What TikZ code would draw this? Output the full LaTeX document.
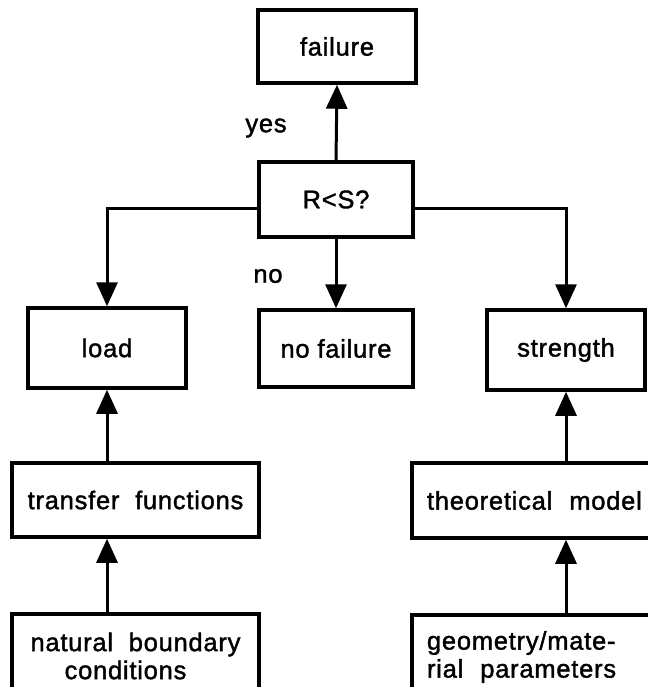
\documentclass[tikz,border=0pt]{standalone}
\usepackage{fontspec}
\setmainfont{Liberation Sans}[LetterSpace=3,FakeBold=1.5]
\usetikzlibrary{arrows.meta}
\begin{document}
\begin{tikzpicture}[x=1pt,y=-1pt,
  box/.style={draw=black,line width=3.5pt,inner sep=0pt,
    font=\fontsize{25.5}{28}\selectfont,text=black},
  conn/.style={line width=3pt,-{Triangle[length=24pt,width=21pt]}},
  lbl/.style={inner sep=0pt,font=\fontsize{25.5}{28}\selectfont}]
\useasboundingbox (0,0) rectangle (647,687);
\node[box,minimum width=158pt,minimum height=73pt] (fail) at (337,46.5) {failure};
\node[box,minimum width=154pt,minimum height=75pt] (rs) at (336,199.5) {R<S?};
\node[box,minimum width=158pt,minimum height=80pt] (load) at (107,348) {load};
\node[box,minimum width=154pt,minimum height=77pt] (nofail) at (336,348.5) {no failure};
\node[box,minimum width=158pt,minimum height=80pt] (str) at (566,350) {strength};
\node[box,minimum width=247pt,minimum height=74pt] (trans) at (135.5,500) {transfer~~functions};
\node[box,minimum width=248pt,minimum height=75pt,text width=218pt,align=left] (theo) at (536,500.5) {theoretical~~model};
\node[box,minimum width=247pt,minimum height=84pt,align=center] (nat) at (135.5,656) {natural~~boundary\\conditions\hspace*{20pt}};
\node[box,minimum width=248pt,minimum height=84pt,text width=218pt,align=left] (geo) at (536,657) {geometry/mate-\\rial~~parameters};
\node[lbl] (yes) at (266,128) {yes};
\node[lbl] (no) at (268,276) {no};
\draw[conn] (rs.north) -- (fail.south);
\draw[conn] (rs.south) -- (nofail.north);
\draw[conn] ([yshift=-8.5pt]rs.west) -| (load.north);
\draw[conn] ([yshift=-8.5pt]rs.east) -| (str.north);
\draw[conn] (trans.north -| load.south) -- (load.south);
\draw[conn] (nat.north -| load.south) -- (trans.south -| load.south);
\draw[conn] (theo.north -| str.south) -- (str.south);
\draw[conn] (geo.north -| str.south) -- (theo.south -| str.south);
\end{tikzpicture}
\end{document}
